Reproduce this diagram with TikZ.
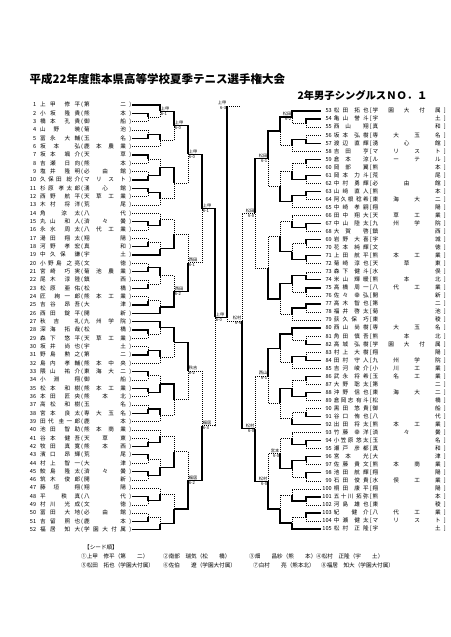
\documentclass[tikz,border=0pt]{standalone}
\usepackage{fontspec}
\setmainfont{Noto Sans CJK JP}
\usetikzlibrary{calc}

\newcommand\listfs{\fontsize{5.6pt}{6pt}\selectfont}
\newcommand\lblfs{\fontsize{4.2pt}{4.5pt}\selectfont}
\newcommand\spacedtext[1]{\expandafter\spreadA#1\relax}
\def\spreadA#1{\ifx\relax#1\else#1\expandafter\spreadB\fi}
\def\spreadB#1{\ifx\relax#1\else\hfil#1\expandafter\spreadB\fi}
\newcommand\entryL[4]{\hbox to 103pt{\hbox to 8pt{\hss#1}\hskip4pt\hbox to 40pt{\spacedtext{#2}\hfil\hfil\spacedtext{#3}}\hskip1pt(\hskip1pt\hbox to 42pt{\spacedtext{#4}}\hfil)}}
\newcommand\entryR[4]{\hbox to 124pt{\hbox to 10pt{\hss#1}\hskip2pt\hbox to 35pt{\spacedtext{#2}\hfil\hfil\spacedtext{#3}}\hskip1pt[\hskip1pt\hbox to 68pt{\spacedtext{#4}}\hfil]}}
% one bout: upper, lower, result, x of the joint, winner (1 upper, 2 lower)
\newcommand\bout[5]{%
  \coordinate (#3) at ($(#1 -| #4,0)!0.5!(#2 -| #4,0)$);
  \ifnum#5=1
    \draw[win] (#1) -| (#3); \draw[lose] (#2) -| (#3);
  \else
    \draw[lose] (#1) -| (#3); \draw[win] (#2) -| (#3);
  \fi}
\newcommand\score[4]{\node[lbl,anchor=south #1] (#2n) at (#2) {#3}; \node[lbl,anchor=north #1] (#2s) at (#2) {#4};}

\begin{document}
\begin{tikzpicture}[x=1pt,y=-1pt,
  win/.style={line width=1.25pt},
  lose/.style={dash pattern=on 1pt off 1pt,line width=0.55pt},
  lp/.style={anchor=west,inner xsep=1pt,inner ysep=0pt,font=\listfs},
  rp/.style={anchor=east,inner xsep=1pt,inner ysep=0pt,font=\listfs},
  lbl/.style={inner sep=0.6pt,font=\lblfs},
  seedtxt/.style={anchor=west,inner sep=0pt,font=\fontsize{5.6pt}{6pt}\selectfont}]
\useasboundingbox (0,0) rectangle (450,637);

\node[anchor=west,font=\fontsize{11.5pt}{12pt}\selectfont\bfseries] (title) at (26,79) {平成22年度熊本県高等学校夏季テニス選手権大会};
\node[anchor=east,font=\fontsize{10.3pt}{11pt}\selectfont\bfseries] (sub) at (431,95) {2年男子シングルスＮＯ．１};

\foreach \n/\nA/\nB/\nS in {1/上甲/修平/第二,2/小坂/隆貴/熊本,3/橋本/孔貴/御船,4/山野/暁/菊池,5/冨永/大輔/玉名,
  6/坂本/弘/鹿本農業,7/坂本/颯介/天草,8/吉瀬/日向/熊本,9/塩井/隆明/必由館,10/久保田/総介/マリスト,
  11/杉原/孝太郎/湧心館,12/西野/航平/天草工業,13/木村/将洋/荒尾,14/角/涼太/八代,15/丸山/和人/済々黌,
  16/永水/周太/八代工業,17/湯田/翔太/翔陽,18/河野/孝宏/真和,19/中久保/謙/宇土,20/小野島/之亮/文徳,
  21/宮崎/巧実/菊池農業,22/尾木/淳陸/鎮西,23/松原/亜佑/松橋,24/匠/絢一郎/熊本工業,25/吉谷/昂吾/大津,
  26/西田/錠平/開新,27/秋吉/礼/九州学院,28/深海/拓哉/松橋,29/森下/悠平/天草工業,30/坂井/尚也/宇土,
  31/野島/勲之/第二,32/島内/孝輔/熊本中央,33/隈山/祐介/東海大二,34/小淵/翔/御船,35/松本/和樹/熊本工業,
  36/本田/匠央/熊本北,37/高松/和樹/玉名,38/宮本/良太/専大玉名,39/田代/圭一郎/鹿本,40/池田/智助/熊本商業,
  41/谷本/健吾/天草東,42/牧田/真寛/熊本西,43/濱口/昂輝/荒尾,44/村上/智一/大津,45/鮫島/隆太/済々黌,
  46/筑木/俊郎/開新,47/藤垣/翔/翔陽,48/平/秩真/八代,49/村川/光成/文徳,50/冨田/大地/必由館,
  51/吉留/照也/鹿本,52/福居/知大/学園大付属}
  \node[lp] (l\n) at (27,{105+(\n-1)*8.33}) {\entryL{\n}{\nA}{\nB}{\nS}};

\foreach \n/\nA/\nB/\nS in {53/松田/拓也/学園大付属,54/亀山/誉斗/宇土,55/西山/翔/真和,56/坂本/弘樹/専大玉名,
  57/渡辺/直輝/湧心館,58/吉田/亨/マリスト,59/倉本/涼/ルーテル,60/岡部/翼/熊本,61/岡本/力斗/荒尾,
  62/中村/勇輝/必由館,63/山﨑/直人/熊本,64/阿久根/稔希/東海大二,65/中崎/孝嗣/翔陽,66/田中/翔大/天草工業,
  67/中山/陸太/九州学院,68/大賀/啓/鎮西,69/岩野/大喜/宇城,70/花本/純輝/文徳,71/上田/航平/熊本工業,
  72/菊崎/淳也/天草東,73/森下/健斗/水俣,74/米山/輝暖/熊本北,75/高橋/周一/八代工業,76/佐々/幸弘/開新,
  77/高木/智也/第二,78/福井/啓太/菊池,79/荻久保/巧/東稜,80/西山/尚樹/専大玉名,81/角田/慎吾/熊本北,
  82/高城/弘樹/学園大付属,83/村上/大樹/翔陽,84/田村/守人/九州学院,85/吉河/峻介/小川工業,86/武永/将希/玉名工業,
  87/大野/聡太/第二,88/沖野/信也/東海大二,89/倉岡志/有斗/松橋,90/黒田/悠貴/御船,91/谷口/侑也/八代,
  92/出田/将太/熊本工業,93/竹藤/幸洋/済々黌,94/小笠原/悠太/玉名,95/瀬戸/彦都/真和,96/宮本/光/大津,
  97/佐藤/貴文/熊本商業,98/池田/航輝/翔陽,99/石田/俊貴/水俣工業,100/桐田/康平/翔陽,101/五十川/拓弥/熊本,
  102/河島/雄也/東稜,103/紀/健介/八代工業,104/中瀬/健太/マリスト,105/松村/正隆/宇土}
  \node[rp] (r\n) at (447,{111+(\n-53)*8.04}) {\entryR{\n}{\nA}{\nB}{\nS}};

% left half
\bout{l2}{l3}{a1}{148}{1}
\bout{l4}{l5}{a2}{148}{2}
\bout{l7}{l8}{a3}{148}{1}
\bout{l9}{l10}{a4}{148}{2}
\bout{l11}{l12}{a5}{148}{1}
\bout{l1}{a1}{a6}{160}{1}
\bout{a2}{l6}{a7}{160}{1}
\bout{a3}{a4}{a8}{160}{2}
\bout{a5}{l13}{a9}{160}{1}
\bout{a6}{a7}{a10}{174}{1}
\bout{a8}{a9}{a11}{174}{1}
\bout{a10}{a11}{qa}{188}{1}
\bout{l15}{l16}{b1}{148}{1}
\bout{l17}{l18}{b2}{148}{2}
\bout{l20}{l21}{b3}{148}{2}
\bout{l22}{l23}{b4}{148}{2}
\bout{l24}{l25}{b5}{148}{2}
\bout{l14}{b1}{b6}{160}{2}
\bout{b2}{l19}{b7}{160}{2}
\bout{b3}{b4}{b8}{160}{1}
\bout{b5}{l26}{b9}{160}{2}
\bout{b6}{b7}{b10}{174}{2}
\bout{b8}{b9}{b11}{174}{2}
\bout{b10}{b11}{qb}{188}{2}
\bout{l28}{l29}{c1}{148}{1}
\bout{l30}{l31}{c2}{148}{2}
\bout{l33}{l34}{c3}{148}{1}
\bout{l35}{l36}{c4}{148}{1}
\bout{l37}{l38}{c5}{148}{2}
\bout{l27}{c1}{c6}{160}{1}
\bout{c2}{l32}{c7}{160}{1}
\bout{c3}{c4}{c8}{160}{2}
\bout{c5}{l39}{c9}{160}{1}
\bout{c6}{c7}{c10}{174}{1}
\bout{c8}{c9}{c11}{174}{1}
\bout{c10}{c11}{qc}{188}{1}
\bout{l41}{l42}{d1}{148}{2}
\bout{l43}{l44}{d2}{148}{1}
\bout{l45}{l46}{d3}{148}{1}
\bout{l48}{l49}{d4}{148}{1}
\bout{l50}{l51}{d5}{148}{2}
\bout{l40}{d1}{d6}{160}{2}
\bout{d2}{d3}{d7}{160}{2}
\bout{l47}{d4}{d8}{160}{2}
\bout{d5}{l52}{d9}{160}{2}
\bout{d6}{d7}{d10}{174}{2}
\bout{d8}{d9}{d11}{174}{2}
\bout{d10}{d11}{qd}{188}{2}
\bout{qa}{qb}{sa}{202}{1}
\bout{qc}{qd}{sb}{202}{2}
\bout{sa}{sb}{hl}{215}{1}

% right half
\bout{r54}{r55}{e1}{306}{1}
\bout{r56}{r57}{e2}{306}{2}
\bout{r59}{r60}{e3}{306}{1}
\bout{r61}{r62}{e4}{306}{1}
\bout{r63}{r64}{e5}{306}{1}
\bout{r53}{e1}{e6}{292}{1}
\bout{e2}{r58}{e7}{292}{1}
\bout{e3}{e4}{e8}{292}{2}
\bout{e5}{r65}{e9}{292}{1}
\bout{e6}{e7}{e10}{280}{1}
\bout{e8}{e9}{e11}{280}{2}
\bout{e10}{e11}{qe}{268}{1}
\bout{r67}{r68}{f1}{306}{1}
\bout{r69}{r70}{f2}{306}{1}
\bout{r71}{r72}{f3}{306}{1}
\bout{r73}{r74}{f4}{306}{2}
\bout{r75}{r76}{f5}{306}{1}
\bout{r77}{r78}{f6}{306}{1}
\bout{r66}{f1}{f7}{292}{2}
\bout{f2}{f3}{f8}{292}{2}
\bout{f4}{f5}{f9}{292}{1}
\bout{f6}{r79}{f10}{292}{1}
\bout{f7}{f8}{f11}{280}{2}
\bout{f9}{f10}{f12}{280}{1}
\bout{f11}{f12}{qf}{268}{2}
\bout{r81}{r82}{g1}{306}{2}
\bout{r83}{r84}{g2}{306}{2}
\bout{r86}{r87}{g3}{306}{1}
\bout{r88}{r89}{g4}{306}{1}
\bout{r90}{r91}{g5}{306}{2}
\bout{r80}{g1}{g6}{292}{1}
\bout{g2}{r85}{g7}{292}{1}
\bout{g3}{g4}{g8}{292}{2}
\bout{g5}{r92}{g9}{292}{2}
\bout{g6}{g7}{g10}{280}{1}
\bout{g8}{g9}{g11}{280}{1}
\bout{g10}{g11}{qg}{268}{1}
\bout{r94}{r95}{h1}{306}{1}
\bout{r96}{r97}{h2}{306}{1}
\bout{r98}{r99}{h3}{306}{1}
\bout{r101}{r102}{h4}{306}{1}
\bout{r103}{r104}{h5}{306}{1}
\bout{r93}{h1}{h6}{292}{2}
\bout{h2}{h3}{h7}{292}{1}
\bout{r100}{h4}{h8}{292}{2}
\bout{h5}{r105}{h9}{292}{2}
\bout{h6}{h7}{h10}{280}{2}
\bout{h8}{h9}{h11}{280}{2}
\bout{h10}{h11}{qh}{268}{2}
\bout{qe}{qf}{se}{255}{1}
\bout{qg}{qh}{sf}{255}{2}
\bout{se}{sf}{hr}{242}{2}

% final
\coordinate (top) at (227,106);
\coordinate (topend) at (241,106);
\draw[lose] (hr) -| (top);
\draw[win] (hl) -| (top);
\draw[lose] (top) -- (topend);
\node[lbl,anchor=south east] (champ) at (top) {上甲};
\node[lbl,anchor=north east] (champs) at (top) {6-3};

\score{west}{a6}{上甲}{6-1}
\score{west}{a10}{上甲}{6-0}
\score{west}{qa}{上甲}{6-0}
\score{west}{sa}{上甲}{6-1}
\score{west}{hl}{上甲}{6-0}
\score{west}{b11}{西田}{6-2}
\score{west}{qb}{西田}{6-1}
\score{west}{qc}{秋吉}{6-2}
\score{west}{qd}{福居}{6-2}
\score{west}{sb}{福居}{6-3}
\score{east}{e6}{松田}{6-2}
\score{east}{qe}{松田}{6-1}
\score{east}{se}{松田}{6-0}
\score{east}{qg}{西山}{6-1}
\score{east}{h10}{宮本}{6-0}
\score{east}{qh}{松村}{6-0}
\score{east}{sf}{松村}{6-0}
\score{east}{hr}{松村}{6-4}

\node[seedtxt] (seedhd) at (84,547) {【シード順】};
\node[seedtxt] (s1) at (81,556) {①上甲　修平（第　　二）};
\node[seedtxt] (s2) at (163,556) {②南部　瑞気（松　　橋）};
\node[seedtxt] (s3) at (249,556) {③畑　　昌紗（熊　　本）};
\node[seedtxt] (s4) at (316,556) {④松村　正隆（宇　　土）};
\node[seedtxt] (s5) at (81,565) {⑤松田　拓也（学園大付属）};
\node[seedtxt] (s6) at (163,565) {⑥佐伯　　遼（学園大付属）};
\node[seedtxt] (s7) at (253,565) {⑦白村　　亮（熊本北）};
\node[seedtxt] (s8) at (321,565) {⑧福居　知大（学園大付属）};
\end{tikzpicture}
\end{document}
